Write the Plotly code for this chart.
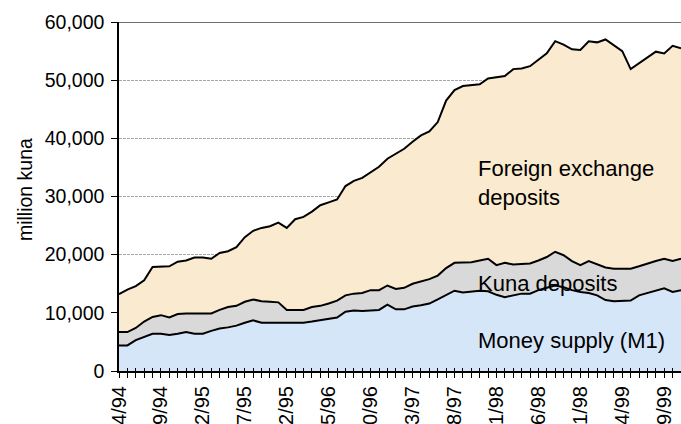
import plotly.graph_objects as go

# Monthly observations, April 1994 - November 1999
months = [f"{(3 + i) % 12 + 1}/{(94 + (3 + i) // 12) % 100:02d}" for i in range(68)]

# Tick labels as they appear in the chart (rotated, leading digit clipped)
tick_labels = ["4/94", "9/94", "2/95", "7/95", "2/95", "5/96", "0/96",
               "3/97", "8/97", "1/98", "6/98", "1/98", "4/99", "9/99"]

# million kuna
money_supply = [4400, 4400, 5300, 5900, 6400, 6400, 6200, 6400, 6700, 6400,
                6400, 6900, 7300, 7500, 7800, 8300, 8700, 8300, 8300, 8300,
                8300, 8300, 8300, 8500, 8700, 8900, 9200, 10200, 10400, 10300,
                10400, 10500, 11400, 10600, 10600, 11100, 11300, 11600, 12300, 13100,
                13800, 13500, 13600, 13800, 13700, 13100, 12700, 13000, 13300, 13300,
                13900, 14300, 14700, 14400, 13900, 13600, 13400, 13000, 12200, 12000,
                12000, 12100, 13000, 13400, 13900, 14200, 13600, 13900]

kuna_deposits = [2300, 2300, 2100, 2600, 2900, 3200, 3000, 3400, 3200, 3500,
                 3500, 3000, 3200, 3500, 3400, 3600, 3600, 3700, 3600, 3500,
                 2200, 2200, 2200, 2500, 2500, 2700, 2900, 2800, 2900, 3100,
                 3500, 3400, 3300, 3500, 3700, 3900, 4100, 4200, 4100, 4600,
                 4800, 5100, 5100, 5200, 5600, 5100, 5900, 5300, 5100, 5200,
                 5100, 5300, 5800, 5500, 5000, 4600, 5500, 5400, 5600, 5600,
                 5600, 5500, 5000, 5100, 5000, 5100, 5300, 5400]

fx_deposits = [6500, 7300, 7200, 7100, 8600, 8400, 8800, 9000, 9100, 9600,
               9600, 9400, 9800, 9600, 10100, 11100, 11800, 12600, 13000, 13700,
               14100, 15600, 16000, 16400, 17300, 17400, 17400, 18800, 19400, 19800,
               20300, 21200, 21800, 23300, 23900, 24400, 25100, 25400, 26400, 28800,
               29700, 30400, 30500, 30300, 31000, 32300, 32100, 33600, 33600, 33900,
               34500, 35000, 36200, 36200, 36400, 37000, 37800, 38100, 39200, 38400,
               37400, 34300, 34900, 35400, 36000, 35300, 37000, 36200]

x = list(range(len(months)))
tick_pos = list(range(0, len(months), 5))

FONT = "Liberation Sans, Arial, sans-serif"

fig = go.Figure()
series = [
    ("Money supply (M1)", money_supply, "#D6E6F9"),
    ("Kuna deposits", kuna_deposits, "#D9D9D9"),
    ("Foreign exchange deposits", fx_deposits, "#FAEACF"),
]
for name, vals, col in series:
    fig.add_trace(go.Scatter(
        x=x, y=vals, name=name, stackgroup="one", mode="lines",
        line=dict(color="black", width=2), fillcolor=col,
        customdata=months, hovertemplate="%{customdata}: %{y:,}<extra>" + name + "</extra>",
    ))

# invisible trace on the overlay axis to carry the inside ticks
fig.add_trace(go.Scatter(x=[x[0], x[-1]], y=[0, 0], xaxis="x2", mode="lines",
                         line=dict(width=0), showlegend=False, hoverinfo="skip"))

fig.update_layout(
    width=681, height=424,
    margin=dict(l=119, r=0, t=22, b=53),
    paper_bgcolor="white", plot_bgcolor="white",
    showlegend=False,
    font=dict(family=FONT, color="black"),
    xaxis=dict(
        range=[0, len(months) - 1], tickvals=tick_pos, ticktext=tick_labels,
        tickangle=-90, tickfont=dict(size=20, family=FONT, color="black"),
        ticks="outside", ticklen=5, tickcolor="black", tickwidth=1,
        minor=dict(dtick=1, tick0=0, ticks="outside", ticklen=5, tickcolor="black", tickwidth=1),
        showline=True, linecolor="black", linewidth=2,
        showgrid=False, zeroline=False, automargin=False,
    ),
    xaxis2=dict(
        overlaying="x", range=[0, len(months) - 1], dtick=1, tick0=0,
        ticks="inside", ticklen=3, tickcolor="black", showticklabels=False,
        showgrid=False, zeroline=False, showline=False, side="bottom",
    ),
    yaxis=dict(
        range=[0, 60000], tickvals=[0, 10000, 20000, 30000, 40000, 50000, 60000],
        tickformat=",", tickfont=dict(size=19.5, family=FONT, color="black"),
        ticks="outside", ticklen=6, tickcolor="black", ticklabelstandoff=3,
        showline=True, linecolor="black", linewidth=1.5,
        showgrid=True, gridcolor="#A6A6A6", gridwidth=1, griddash="3px,1px",
        zeroline=False, automargin=False,
    ),
    shapes=[dict(type="line", xref="paper", yref="y", x0=0, x1=1, y0=60000, y1=60000,
                 line=dict(color="#404040", width=1.5))],
    annotations=[
        dict(text="million kuna", xref="paper", yref="paper", x=-0.168, y=0.52,
             xanchor="center", yanchor="middle",
             textangle=-90, showarrow=False, font=dict(size=19.5, family=FONT)),
        dict(text="Foreign exchange<br>deposits", x=42.6, y=32300, xanchor="left",
             yanchor="middle", align="left", showarrow=False, font=dict(size=22, family=FONT)),
        dict(text="Kuna deposits", x=42.6, y=15100, xanchor="left", yanchor="middle",
             showarrow=False, font=dict(size=22, family=FONT)),
        dict(text="Money supply (M1)", x=42.6, y=5300, xanchor="left", yanchor="middle",
             showarrow=False, font=dict(size=22, family=FONT)),
    ],
)

fig.write_html("out.html", config={"displayModeBar": False},
               post_script="document.body.style.margin='0';document.body.style.overflow='hidden';")
